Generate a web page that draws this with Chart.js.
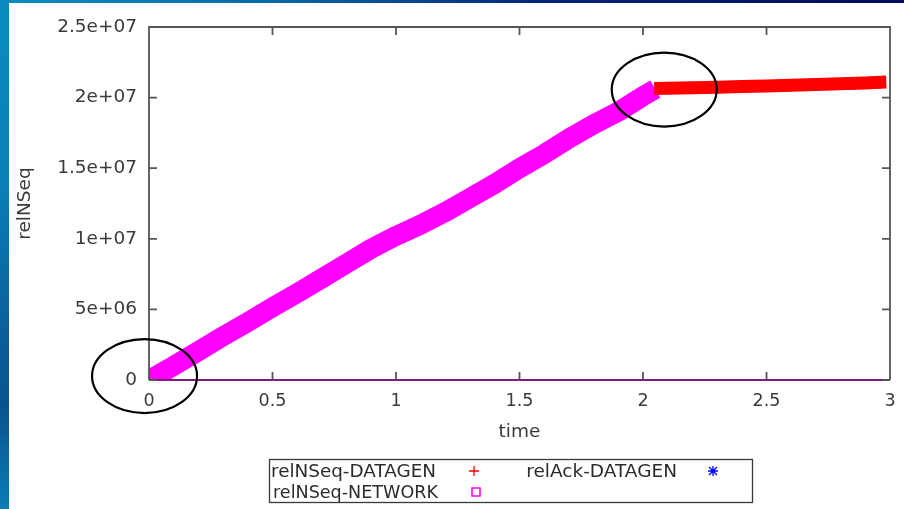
<!DOCTYPE html>
<html>
<head>
<meta charset="utf-8">
<title>relNSeq vs time</title>
<script src="https://cdn.jsdelivr.net/npm/chart.js@4.4.1/dist/chart.umd.min.js"></script>
<style>
  html, body { margin: 0; padding: 0; background: #fff; }
  #wrap { position: relative; width: 904px; height: 509px; overflow: hidden; background: #fff; }
  #plot { position: absolute; left: 0; top: 0; }
  .edge-left {
    position: absolute; left: 0; top: 0; width: 9px; height: 509px;
    background: linear-gradient(to bottom, #0a8cc0 0%, #0a80b8 35%, #0a5c99 68%, #09548f 80%, #0b7cb6 100%);
  }
  .edge-top {
    position: absolute; left: 0; top: 0; width: 904px; height: 3px;
    background: linear-gradient(to right, #0a8cc0 0%, #0868a8 30%, #06247c 60%, #020a5a 100%);
  }
</style>
</head>
<body>
<div id="wrap">
  <canvas id="plot" width="904" height="509"></canvas>
  <div class="edge-left"></div>
  <div class="edge-top"></div>
</div>
<script>
// relNSeq-NETWORK samples (time in s, sequence number)
const networkTime = [0, 0.1, 0.2, 0.3, 0.4, 0.5, 0.6, 0.7, 0.8, 0.9, 1.0, 1.1, 1.2, 1.3, 1.4, 1.5, 1.6, 1.7, 1.8, 1.9, 2.0, 2.05];
const networkSeq = [0, 1.0e6, 2.05e6, 3.1e6, 4.1e6, 5.15e6, 6.15e6, 7.2e6, 8.25e6, 9.3e6, 1.02e7, 1.1e7, 1.19e7, 1.29e7, 1.39e7, 1.5e7, 1.6e7, 1.71e7, 1.81e7, 1.9e7, 2.01e7, 2.06e7];

// relNSeq-DATAGEN samples
const datagenTime = [2.045, 2.1, 2.2, 2.3, 2.4, 2.5, 2.6, 2.7, 2.8, 2.9, 2.985];
const datagenSeq = [2.065e7, 2.066e7, 2.07e7, 2.073e7, 2.078e7, 2.082e7, 2.087e7, 2.092e7, 2.098e7, 2.104e7, 2.11e7];

// relAck-DATAGEN samples
const ackTime = [0, 3];
const ackSeq = [0, 0];

// tick labels as printed on the axes
const xTickLabels = ["0", "0.5", "1", "1.5", "2", "2.5", "3"];
const yTickLabels = ["0", "5e+06", "1e+07", "1.5e+07", "2e+07", "2.5e+07"];

// spots ringed on the plot (data units)
const ringedSpots = [[-0.018, 0.28e6], [2.086, 2.057e7]];

const toPoints = (xs, ys) => xs.map((x, i) => ({ x: x, y: ys[i] }));

Chart.defaults.font.family = "'DejaVu Sans', sans-serif";
Chart.defaults.color = "#333";

// gnuplot style border with inward tick marks on every side
const gnuplotFrame = {
  id: "gnuplotFrame",
  beforeDatasetsDraw(chart) {
    const { ctx, chartArea: a } = chart;
    ctx.save();
    ctx.strokeStyle = "#555";
    ctx.lineWidth = 1.8;
    ctx.beginPath();
    ctx.moveTo(a.left, a.bottom);
    ctx.lineTo(a.right, a.bottom);
    ctx.stroke();
    ctx.restore();
  },
  afterDatasetsDraw(chart) {
    const { ctx, chartArea: a, scales } = chart;
    const xs = scales.x, ys = scales.y;
    ctx.save();
    ctx.strokeStyle = "#555";
    ctx.lineWidth = 1.8;
    ctx.beginPath();
    ctx.moveTo(a.left, a.bottom);
    ctx.lineTo(a.left, a.top);
    ctx.lineTo(a.right, a.top);
    ctx.lineTo(a.right, a.bottom);
    xs.ticks.forEach((t) => {
      const px = xs.getPixelForValue(t.value);
      ctx.moveTo(px, a.bottom);
      ctx.lineTo(px, a.bottom - 8);
      ctx.moveTo(px, a.top);
      ctx.lineTo(px, a.top + 8);
    });
    ys.ticks.forEach((t) => {
      const py = ys.getPixelForValue(t.value);
      ctx.moveTo(a.left, py);
      ctx.lineTo(a.left + 8, py);
      ctx.moveTo(a.right, py);
      ctx.lineTo(a.right - 8, py);
    });
    ctx.stroke();
    ctx.restore();
  },
  afterDraw(chart) {
    const { ctx, scales } = chart;
    ctx.save();
    // hand drawn rings
    ctx.strokeStyle = "#000";
    ctx.lineWidth = 2.2;
    ringedSpots.forEach(([vx, vy]) => {
      ctx.beginPath();
      ctx.ellipse(scales.x.getPixelForValue(vx), scales.y.getPixelForValue(vy), 52.5, 37, 0, 0, Math.PI * 2);
      ctx.stroke();
    });

    // key box, text right justified before each sample symbol
    const slots = [
      { tx: 436, mx: 474, y: 471 },
      { tx: 677, mx: 713, y: 471 },
      { tx: 438, mx: 476, y: 492 },
    ];
    ctx.strokeStyle = "#3a3a3a";
    ctx.lineWidth = 1.3;
    ctx.strokeRect(269.5, 459.5, 483, 43);
    ctx.font = "18.5px 'DejaVu Sans', sans-serif";
    ctx.fillStyle = "#2b2b2b";
    ctx.textAlign = "right";
    ctx.textBaseline = "middle";
    chart.data.datasets.forEach((ds, i) => {
      const s = slots[i];
      ctx.fillText(ds.label, s.tx, s.y + 1, 165);
      ctx.strokeStyle = ds.pointBorderColor;
      ctx.lineWidth = 1.3;
      ctx.beginPath();
      if (ds.pointStyle === "cross") {
        ctx.moveTo(s.mx - 5, s.y); ctx.lineTo(s.mx + 5, s.y);
        ctx.moveTo(s.mx, s.y - 5); ctx.lineTo(s.mx, s.y + 5);
      } else if (ds.pointStyle === "star") {
        ctx.moveTo(s.mx - 5, s.y); ctx.lineTo(s.mx + 5, s.y);
        ctx.moveTo(s.mx, s.y - 5); ctx.lineTo(s.mx, s.y + 5);
        ctx.moveTo(s.mx - 4, s.y - 4); ctx.lineTo(s.mx + 4, s.y + 4);
        ctx.moveTo(s.mx - 4, s.y + 4); ctx.lineTo(s.mx + 4, s.y - 4);
      } else {
        ctx.lineWidth = 1.6;
        ctx.rect(s.mx - 4, s.y - 4, 8, 8);
      }
      ctx.stroke();
    });
    ctx.restore();
  },
};

const chart = new Chart(document.getElementById("plot"), {
  type: "line",
  data: {
    datasets: [
      {
        label: "relNSeq-DATAGEN",
        data: toPoints(datagenTime, datagenSeq),
        borderColor: "#ff0000",
        borderWidth: 13,
        borderCapStyle: "butt",
        pointRadius: 0,
        pointStyle: "cross",
        pointBorderColor: "#ff0000",
        clip: 0,
      },
      {
        label: "relAck-DATAGEN",
        data: toPoints(ackTime, ackSeq),
        borderColor: "#7d1a7d",
        borderWidth: 2.2,
        pointRadius: 0,
        pointStyle: "star",
        pointBorderColor: "#0000ff",
        clip: 2,
      },
      {
        label: "relNSeq-NETWORK",
        data: toPoints(networkTime, networkSeq),
        borderColor: "#ff00ff",
        borderWidth: 20,
        borderCapStyle: "butt",
        borderJoinStyle: "round",
        pointRadius: 0,
        pointStyle: "rect",
        pointBorderColor: "#ff00ff",
        clip: 0,
      },
    ],
  },
  options: {
    responsive: false,
    animation: false,
    events: [],
    layout: { padding: { left: 0, right: 14, top: 27, bottom: 0 } },
    plugins: {
      legend: { display: false },
      tooltip: { enabled: false },
    },
    scales: {
      x: {
        type: "linear",
        min: 0,
        max: 3,
        afterFit: (scale) => {
          scale.height = 129;
          scale.paddingLeft = 0;
          scale.paddingRight = 0;
        },
        grid: { display: false, drawTicks: false },
        border: { display: false },
        ticks: {
          stepSize: 0.5,
          padding: 11,
          font: { size: 17.5 },
          color: "#3a3a3a",
          callback: (value, index) => xTickLabels[index],
        },
        title: {
          display: true,
          text: "time",
          font: { size: 18.5 },
          color: "#3a3a3a",
          padding: { top: 0, bottom: 66 },
        },
      },
      y: {
        type: "linear",
        min: 0,
        max: 2.5e7,
        afterFit: (scale) => {
          scale.width = 149;
          scale.paddingTop = 0;
          scale.paddingBottom = 0;
        },
        grid: { display: false, drawTicks: false },
        border: { display: false },
        ticks: {
          stepSize: 5e6,
          padding: 12,
          font: { size: 18.5 },
          color: "#3a3a3a",
          callback: (value, index) => yTickLabels[index],
        },
        title: {
          display: true,
          text: "relNSeq",
          font: { size: 18.5 },
          color: "#3a3a3a",
          padding: { top: 14, bottom: 0 },
        },
      },
    },
  },
  plugins: [gnuplotFrame],
});
</script>
</body>
</html>
